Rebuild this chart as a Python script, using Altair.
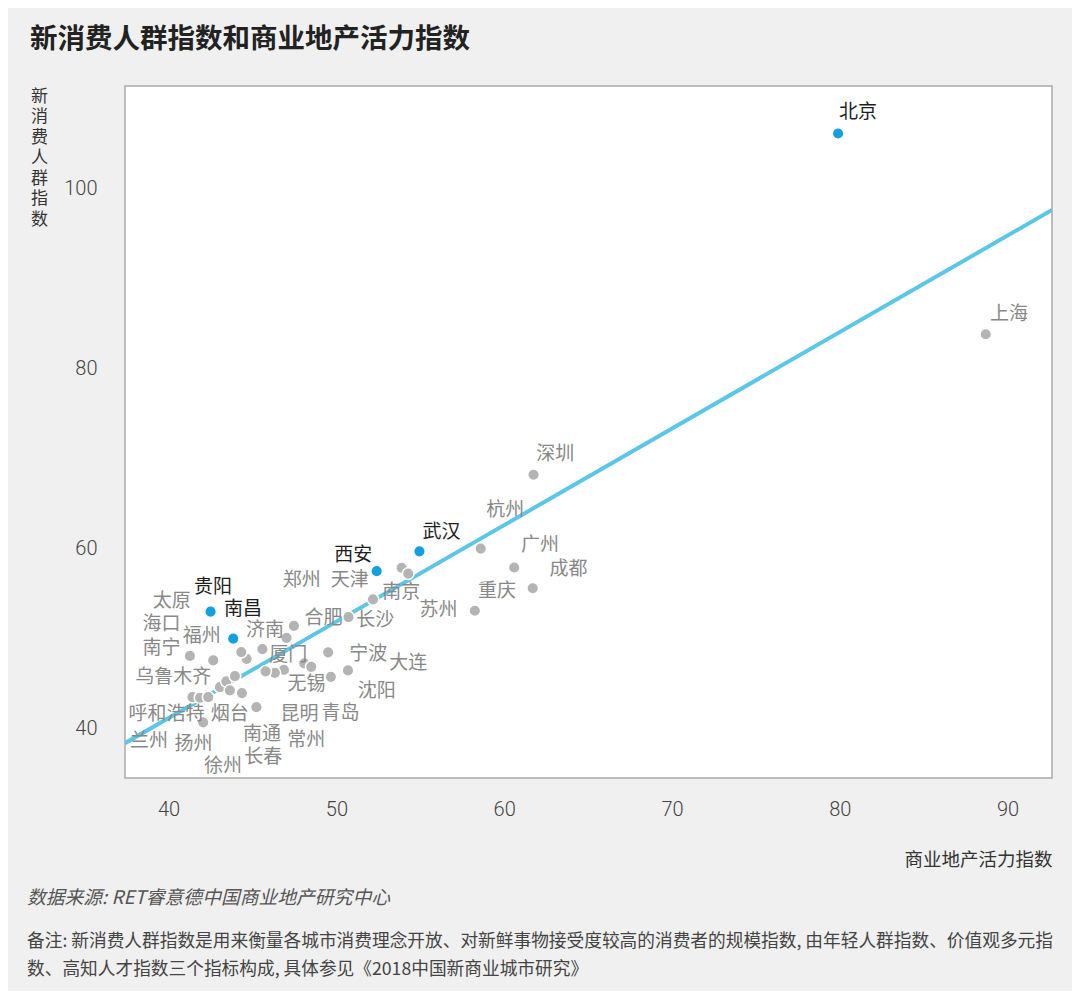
import altair as alt
import pandas as pd

# ---- data ----
# points: x = 商业地产活力指数, y = 新消费人群指数, hl = highlighted (blue)
point_x = [88.7, 61.75, 58.6, 60.6, 61.7, 58.25,
           53.89, 54.28, 52.18, 50.72, 47.47, 47.03, 49.51, 50.69, 49.67,
           48.08, 48.5, 45.59, 44.65, 44.33, 41.27, 42.66,
           43.06, 43.44, 43.95, 43.65, 44.37,
           41.42, 41.87, 42.36, 45.23, 42.06,
           46.87, 46.33, 45.78,
           79.9, 54.95, 52.4, 42.5, 43.85]
point_y = [83.8, 68.2, 60.0, 57.9, 55.6, 53.1,
           57.87, 57.22, 54.37, 52.4, 51.42, 50.09, 48.48, 46.48, 45.76,
           47.26, 46.87, 48.84, 47.76, 48.51, 48.09, 47.59,
           44.62, 45.26, 45.84, 44.26, 43.96,
           43.51, 43.44, 43.51, 42.4, 40.7,
           46.53, 46.2, 46.37,
           106.1, 59.7, 57.5, 53.0, 50.0]
point_hl = [0] * 35 + [1] * 5

label_text = ["北京", "上海", "深圳", "杭州", "广州", "成都", "重庆", "苏州",
              "武汉", "西安", "郑州", "天津", "南京", "合肥", "长沙", "宁波",
              "大连", "沈阳", "无锡", "厦门", "济南", "福州", "南昌", "贵阳",
              "太原", "海口", "南宁", "乌鲁木齐", "呼和浩特", "烟台", "兰州",
              "扬州", "昆明", "青岛", "常州", "南通", "长春", "徐州"]
label_x = [81.08, 90.08, 63.05, 60.07, 62.13, 63.83, 59.57, 56.08,
           56.26, 51.01, 47.94, 50.8, 53.87, 49.23, 52.32, 51.9,
           54.28, 52.4, 48.22, 47.13, 45.74, 41.97, 44.43, 42.64,
           40.18, 39.58, 39.58, 40.27, 39.87, 43.65, 38.83,
           41.48, 47.8, 50.24, 48.21, 45.56, 45.64, 43.24]
label_y = [108.48, 86.03, 70.56, 64.33, 60.37, 57.76, 55.26, 53.14,
           61.87, 59.26, 56.48, 56.48, 55.14, 52.26, 52.09, 48.26,
           47.29, 44.18, 44.92, 48.14, 51.0, 50.26, 53.26, 55.7,
           54.18, 51.64, 48.92, 45.73, 41.64, 41.59, 38.59,
           38.31, 41.59, 41.73, 38.78, 39.45, 36.9, 35.81]
label_hl = [1, 0, 0, 0, 0, 0, 0, 0,
            1, 1, 0, 0, 0, 0, 0, 0,
            0, 0, 0, 0, 0, 0, 1, 1,
            0, 0, 0, 0, 0, 0, 0,
            0, 0, 0, 0, 0, 0, 0]

trend_x = [37.4, 92.65]
trend_y = [38.4, 97.6]

x_ticks = [40, 50, 60, 70, 80, 90]
y_ticks = [40, 60, 80, 100]
x_domain = [37.4, 92.65]
y_domain = [34.53, 111.37]

title_text = "新消费人群指数和商业地产活力指数"
x_title = "商业地产活力指数"
y_title = "新消费人群指数"
source_text = "数据来源: RET睿意德中国商业地产研究中心"
note_line1 = "备注: 新消费人群指数是用来衡量各城市消费理念开放、对新鲜事物接受度较高的消费者的规模指数, 由年轻人群指数、价值观多元指"
note_line2 = "数、高知人才指数三个指标构成, 具体参见《2018中国新商业城市研究》"

# ---- tables ----
points = pd.DataFrame({"x": point_x, "y": point_y, "hl": point_hl})
labels = pd.DataFrame({"name": label_text, "x": label_x, "y": label_y, "hl": label_hl})
trend = pd.DataFrame({"x": trend_x, "y": trend_y})

CJK = "Noto Sans CJK SC"
NUM = "Roboto"

xs = alt.Scale(domain=x_domain, nice=False, zero=False)
ys = alt.Scale(domain=y_domain, nice=False, zero=False)

x_axis = alt.Axis(values=x_ticks, grid=False, ticks=False, domain=False,
                  labelFont=NUM, labelFontSize=20, labelFontWeight=300,
                  labelColor="#444444", labelPadding=21, labelBaseline="top",
                  title=x_title, titleFont=CJK, titleFontSize=18.5,
                  titleFontWeight="normal", titleColor="#333333",
                  titleX=927, titleY=81, titleAlign="right",
                  titleBaseline="middle")
y_axis = alt.Axis(values=y_ticks, grid=False, ticks=False, domain=False,
                  labelFont=NUM, labelFontSize=20, labelFontWeight=300,
                  labelColor="#444444", labelPadding=28,
                  title=list(y_title), titleFont=CJK, titleFontSize=17,
                  titleFontWeight="normal", titleColor="#333333",
                  titleAngle=0, titleX=-86, titleY=2, titleAlign="center",
                  titleBaseline="top", titleLineHeight=20.5)

line = alt.Chart(trend).mark_line(color="#5bc6e8", strokeWidth=4, clip=True).encode(
    x=alt.X("x:Q", scale=xs, axis=x_axis),
    y=alt.Y("y:Q", scale=ys, axis=y_axis),
)

dots = alt.Chart(points).mark_circle(size=135, opacity=1, stroke="white",
                                     strokeWidth=1.5).encode(
    x=alt.X("x:Q", scale=xs),
    y=alt.Y("y:Q", scale=ys),
    color=alt.condition("datum.hl == 1", alt.value("#12a0e0"), alt.value("#b4b4b4")),
)

texts = alt.Chart(labels).mark_text(font=CJK, fontSize=19, align="center",
                                    baseline="middle").encode(
    x=alt.X("x:Q", scale=xs),
    y=alt.Y("y:Q", scale=ys),
    text="name:N",
    color=alt.condition("datum.hl == 1", alt.value("#1e1e1e"), alt.value("#888888")),
)

source = alt.Chart(pd.DataFrame({"t": [source_text]})).mark_text(
    font=CJK, fontSize=18.8, fontStyle="italic", align="left", baseline="middle",
    color="#555555").encode(text="t:N", x=alt.value(-98), y=alt.value(812))
note1 = alt.Chart(pd.DataFrame({"t": [note_line1]})).mark_text(
    font=CJK, fontSize=17.7, align="left", baseline="middle",
    color="#444444").encode(text="t:N", x=alt.value(-98), y=alt.value(856))
note2 = alt.Chart(pd.DataFrame({"t": [note_line2]})).mark_text(
    font=CJK, fontSize=17.7, align="left", baseline="middle",
    color="#444444").encode(text="t:N", x=alt.value(-98), y=alt.value(884))

chart = alt.layer(line, dots, texts, source, note1, note2).properties(
    width=927, height=692,
    title=alt.TitleParams(title_text, anchor="start", dx=3, offset=33,
                          font=CJK, fontSize=27.5, fontWeight="bold",
                          color="#222222"),
    autosize=alt.AutoSizeParams(type="none"),
    padding={"left": 117, "top": 78, "right": 20, "bottom": 213},
    background="#f0f0f0",
).configure_view(fill="white", stroke="#aaaaaa", strokeWidth=1.5)

chart.save("out.html", embed_options={"renderer": "svg", "actions": False})
